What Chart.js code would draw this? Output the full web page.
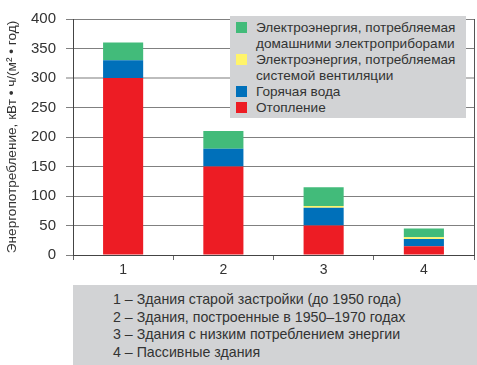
<!DOCTYPE html>
<html>
<head>
<meta charset="utf-8">
<script src="https://cdn.jsdelivr.net/npm/chart.js@4"></script>
<style>
  body { margin: 0; background: #fff; font-family: "Liberation Sans", Arial, sans-serif; }
  #wrap { position: relative; width: 477px; height: 365px; }
  #legend {
    position: absolute; left: 230px; top: 16px; width: 236px; height: 102px;
    background: #d2d3d5; box-sizing: border-box; padding: 4px 0 0 6px;
    font-size: 13.6px; line-height: 16px; color: #333;
  }
  .item { display: flex; align-items: flex-start; white-space: nowrap; }
  .item span.txt { white-space: normal; width: 210px; }
  .sw { width: 11px; height: 11px; margin: 2px 9px 0 0; flex: none; }
  #notes {
    position: absolute; left: 73px; top: 285px; width: 404px; height: 80px;
    background: #d2d3d5; box-sizing: border-box; padding: 6px 0 0 40px;
    font-size: 14.2px; line-height: 17.7px; color: #333;
  }
</style>
</head>
<body>
<div id="wrap">
  <canvas id="chart" width="477" height="365"></canvas>
  <div id="legend"></div>
  <div id="notes"></div>
</div>
<script>
// data
const categories = ['1', '2', '3', '4'];
const heating = [300, 150, 50, 15];
const hotWater = [30, 30, 30, 12];
const ventilation = [0, 0, 3, 3];
const appliances = [30, 30, 32, 15];

const seriesNames = [
    'Отопление',
    'Горячая вода',
    'Электроэнергия, потребляемая системой вентиляции',
    'Электроэнергия, потребляемая домашними электроприборами'
];
const seriesColors = ['#ed1c24', '#0070ba', '#fff46a', '#42bb7a'];
const notes = [
    '1 – Здания старой застройки (до 1950 года)',
    '2 – Здания, построенные в 1950–1970 годах',
    '3 – Здания с низким потреблением энергии',
    '4 – Пассивные здания'
];
const yTitle = 'Энергопотребление, кВт • ч/(м² • год)';

const seriesValues = [heating, hotWater, ventilation, appliances];

// right edge of the plot frame
const frameRight = {
    id: 'frameRight',
    afterDraw(chart) {
        const { ctx, chartArea } = chart;
        ctx.save();
        ctx.strokeStyle = '#555';
        ctx.lineWidth = 1;
        ctx.beginPath();
        ctx.moveTo(chartArea.right + 0.5, chartArea.top);
        ctx.lineTo(chartArea.right + 0.5, chartArea.bottom);
        ctx.stroke();
        ctx.restore();
    }
};

const chart = new Chart(document.getElementById('chart'), {
    type: 'bar',
    data: {
        labels: categories,
        datasets: seriesValues.map((vals, i) => ({
            label: seriesNames[i],
            data: vals,
            backgroundColor: seriesColors[i],
            borderWidth: 0,
            barPercentage: 0.4,
            categoryPercentage: 1
        }))
    },
    options: {
        responsive: false,
        animation: false,
        layout: { padding: { left: 0, right: 3, top: 10, bottom: 85 } },
        plugins: { legend: { display: false }, tooltip: { enabled: false } },
        scales: {
            x: {
                stacked: true,
                border: { color: '#444', width: 1 },
                grid: { offset: true, drawOnChartArea: false, drawTicks: true, tickLength: 5, color: '#666' },
                ticks: { color: '#333', font: { size: 14, family: 'Liberation Sans' }, padding: 2 },
                afterFit(scale) { scale.height = 25; }
            },
            y: {
                stacked: true,
                min: 0, max: 400,
                border: { color: '#444', width: 1 },
                grid: {
                    color: ctx => ctx.tick && ctx.tick.value === 300 ? '#bdbdbd' : '#808080',
                    lineWidth: ctx => ctx.tick && ctx.tick.value === 300 ? 2 : 1,
                    tickLength: 7
                },
                ticks: { stepSize: 50, color: '#333', font: { size: 15, family: 'Liberation Sans' }, padding: 10 },
                title: { display: true, text: yTitle, color: '#333', font: { size: 13.6, family: 'Liberation Sans' }, padding: { top: 4, bottom: 0 } },
                afterFit(scale) { scale.width = 73; }
            }
        }
    },
    plugins: [frameRight]
});

// legend, top series first
const legend = document.getElementById('legend');
for (let i = seriesNames.length - 1; i >= 0; i--) {
    const row = document.createElement('div');
    row.className = 'item';
    const sw = document.createElement('span');
    sw.className = 'sw';
    sw.style.background = seriesColors[i];
    const txt = document.createElement('span');
    txt.className = 'txt';
    txt.textContent = seriesNames[i];
    row.appendChild(sw);
    row.appendChild(txt);
    legend.appendChild(row);
}

const notesBox = document.getElementById('notes');
notes.forEach(n => {
    const d = document.createElement('div');
    d.textContent = n;
    notesBox.appendChild(d);
});
</script>
</body>
</html>
